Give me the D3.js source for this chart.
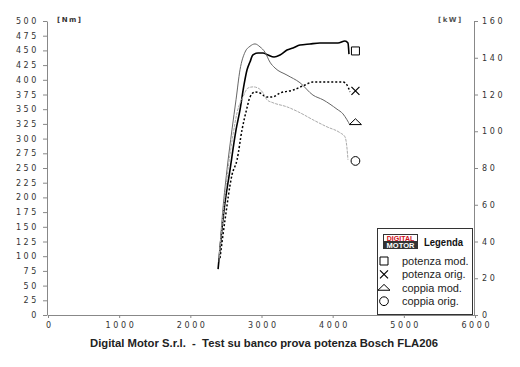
<!DOCTYPE html>
<html>
<head>
<meta charset="utf-8">
<script src="https://cdn.jsdelivr.net/npm/d3@7"></script>
<style>
  body { margin: 0; background: #fff; }
  .ax text { font-family: "DejaVu Sans", sans-serif; font-size: 8px; letter-spacing: 2.6px; fill: #333; }
  .ax path, .ax line { stroke: #888; }
</style>
</head>
<body>
<script>
// giri motore (rpm) e valori
const potModRpm = [2390, 2473, 2557, 2642, 2698, 2754, 2796, 2838, 2880, 2951, 3021, 3091, 3176, 3260, 3358, 3442, 3541, 3681, 3822, 3962, 4075, 4173, 4215, 4229]
const potModKw  = [25.0, 57.1, 78.9, 100.7, 111.6, 125.2, 133.3, 137.7, 141.5, 142.6, 142.6, 141.5, 140.4, 141.5, 144.2, 145.3, 146.9, 147.5, 148.0, 148.0, 148.0, 149.1, 148.0, 142.0]

const potOrigRpm = [2417, 2487, 2585, 2656, 2726, 2796, 2838, 2909, 2979, 3077, 3147, 3260, 3442, 3611, 3723, 3920, 4145, 4201, 4243]
const potOrigKw  = [31.0, 51.7, 76.2, 84.4, 100.7, 112.7, 118.6, 121.4, 120.8, 118.6, 118.6, 120.8, 122.4, 125.2, 126.8, 126.8, 126.8, 125.2, 121.4]

const copModRpm = [2403, 2445, 2515, 2585, 2642, 2698, 2768, 2838, 2909, 2979, 3049, 3119, 3190, 3358, 3541, 3723, 3864, 4061, 4145, 4201, 4243]
const copModNm  = [90, 162, 247, 315, 366, 417, 447, 457, 461, 456, 447, 430, 420, 408, 395, 374, 366, 350, 342, 332, 323]

const copOrigRpm = [2403, 2459, 2529, 2599, 2656, 2740, 2810, 2880, 2951, 3021, 3077, 3161, 3358, 3541, 3723, 3920, 4103, 4173, 4201, 4215]
const copOrigNm  = [97, 170, 247, 306, 344, 371, 386, 388, 386, 378, 366, 361, 354, 344, 332, 320, 310, 303, 284, 264]

const rpmTicks = [0, 1000, 2000, 3000, 4000, 5000, 6000]
const nmTicks  = [0, 25, 50, 75, 100, 125, 150, 175, 200, 225, 250, 275, 300, 325, 350, 375, 400, 425, 450, 475, 500]
const kwTicks  = [0, 20, 40, 60, 80, 100, 120, 140, 160]

const legendNames = ["potenza mod.", "potenza orig.", "coppia mod.", "coppia orig."]
const markerRpm = 4320
const markerVals = [143.7, 122.0, 328, 262]   // kW, kW, Nm, Nm

const W = 520, H = 367
const svg = d3.select("body").append("svg").attr("width", W).attr("height", H)

const x = d3.scaleLinear().domain([0, 6000]).range([48, 475])
const yNm = d3.scaleLinear().domain([0, 500]).range([315, 21])
const yKw = d3.scaleLinear().domain([0, 160]).range([315, 21])

// assi
svg.append("g").attr("class", "ax")
    .attr("transform", "translate(0,315)")
    .call(d3.axisBottom(x).tickValues(rpmTicks).tickFormat(d3.format("d"))
        .tickSize(3).tickSizeOuter(0).tickPadding(4))
    .selectAll("text").attr("dx", "1.3px")
svg.append("g").attr("class", "ax")
    .attr("transform", "translate(47,0)")
    .call(d3.axisLeft(yNm).tickValues(nmTicks).tickSize(4).tickSizeOuter(0).tickPadding(4))
svg.append("g").attr("class", "ax")
    .attr("transform", "translate(474,0)")
    .call(d3.axisRight(yKw).tickValues(kwTicks).tickSize(4).tickSizeOuter(0).tickPadding(4))

svg.append("text").attr("x", 57).attr("y", 22)
    .style("font-family", "DejaVu Sans").style("font-size", "7px").style("font-weight", "bold")
    .style("letter-spacing", "1.5px").style("fill", "#333").text("[Nm]")
svg.append("text").attr("x", 438).attr("y", 22)
    .style("font-family", "DejaVu Sans").style("font-size", "7px").style("font-weight", "bold")
    .style("letter-spacing", "1.5px").style("fill", "#555").text("[kW]")

// curve
const series = [
    { rpm: potModRpm, v: potModKw, y: yKw, color: "#000", width: 1.6, dash: null },
    { rpm: potOrigRpm, v: potOrigKw, y: yKw, color: "#000", width: 1.5, dash: "2,2" },
    { rpm: copModRpm, v: copModNm, y: yNm, color: "#666", width: 1, dash: null },
    { rpm: copOrigRpm, v: copOrigNm, y: yNm, color: "#aaa", width: 1, dash: "3,1" }
]

series.forEach((s) => {
    const line = d3.line()
        .x((d, i) => x(s.rpm[i]))
        .y((d) => s.y(d))
        .curve(d3.curveMonotoneX)
    svg.append("path")
        .attr("d", line(s.v))
        .style("fill", "none")
        .style("stroke", s.color)
        .style("stroke-width", s.width)
        .style("stroke-dasharray", s.dash)
})

// simboli a fine curva
const symTypes = [d3.symbolSquare, d3.symbolCross, d3.symbolTriangle, d3.symbolCircle]
const drawSym = (g, i, cx, cy) => {
    if (i === 1) {
        g.append("path")
            .attr("d", `M${cx - 4},${cy - 4}L${cx + 4},${cy + 4}M${cx + 4},${cy - 4}L${cx - 4},${cy + 4}`)
            .style("stroke", "#000").style("stroke-width", 1.2).style("fill", "none")
        return
    }
    const size = i === 0 ? 64 : i === 2 ? 40 : 60
    g.append("path")
        .attr("d", d3.symbol().type(symTypes[i]).size(size)())
        .attr("transform", i === 2 ? `translate(${cx},${cy + 0.5}) scale(1.25,0.7)` : `translate(${cx},${cy})`)
        .style("fill", "#fff").style("stroke", "#000").style("stroke-width", 1)
        .style("vector-effect", "non-scaling-stroke")
}
markerVals.forEach((v, i) => {
    const yy = i < 2 ? yKw(v) : yNm(v)
    drawSym(svg, i, x(markerRpm), yy)
})

// legenda
const leg = svg.append("g")
leg.append("rect").attr("x", 377.5).attr("y", 228.5).attr("width", 95).attr("height", 86)
    .style("fill", "#fff").style("stroke", "#333")
leg.append("rect").attr("x", 383).attr("y", 234).attr("width", 35).attr("height", 15).style("fill", "#333")
leg.append("rect").attr("x", 384).attr("y", 235).attr("width", 33).attr("height", 6).style("fill", "#fff")
leg.append("text").attr("x", 400.5).attr("y", 240.7).attr("text-anchor", "middle")
    .style("font-family", "Liberation Sans").style("font-weight", "bold").style("font-size", "7px")
    .style("fill", "#d0101a").text("DIGITAL")
leg.append("text").attr("x", 400.5).attr("y", 247.6).attr("text-anchor", "middle")
    .style("font-family", "Liberation Sans").style("font-weight", "bold").style("font-size", "7.5px")
    .style("fill", "#fff").text("MOTOR")
leg.append("text").attr("x", 424).attr("y", 246)
    .attr("textLength", 39).attr("lengthAdjust", "spacingAndGlyphs")
    .style("font-family", "Liberation Sans")
    .style("font-weight", "bold").style("font-size", "11.5px").style("fill", "#111").text("Legenda")

legendNames.forEach((name, i) => {
    const cy = 261 + i * 13.4
    drawSym(leg, i, 384, cy)
    leg.append("text").attr("x", 402).attr("y", cy + 4)
        .style("font-family", "Liberation Sans").style("font-size", "11px").style("fill", "#222").text(name)
})

// titolo
svg.append("text").attr("x", 264).attr("y", 347).attr("text-anchor", "middle")
    .attr("textLength", 348).attr("lengthAdjust", "spacingAndGlyphs")
    .style("font-family", "Liberation Sans").style("font-weight", "bold").style("font-size", "11.5px")
    .style("fill", "#222").style("white-space", "pre")
    .text("Digital Motor S.r.l.  -  Test su banco prova potenza Bosch FLA206")
</script>
</body>
</html>
